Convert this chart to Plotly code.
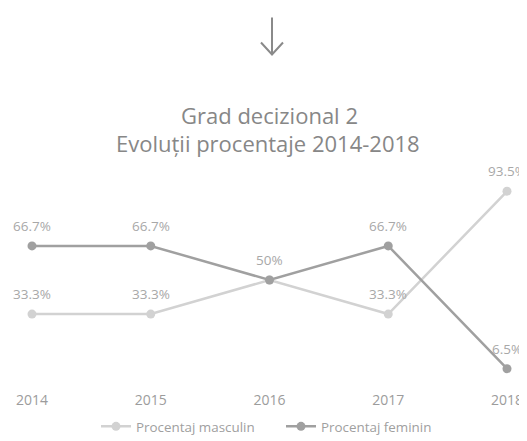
import plotly.graph_objects as go

years = ["2014", "2015", "2016", "2017", "2018"]
masculin = [33.3, 33.3, 50, 33.3, 93.5]
feminin = [66.7, 66.7, 50, 66.7, 6.5]
masc_labels = ["33.3%", "33.3%", "", "33.3%", "93.5%"]
fem_labels = ["66.7%", "66.7%", "50%", "66.7%", "6.5%"]

xs = list(range(len(years)))
font_fam = "Open Sans, Liberation Sans, sans-serif"

# page has an 8px body margin: work in figure coordinates (page - 8)
W, H = 519, 433
PLOT_TOP = 170.1
PLOT_H = 203.4
C_MASC = "#d2d2d2"
C_FEM = "#a0a0a0"

def py(p):
    return 1 + (PLOT_TOP - p) / PLOT_H

def px(p):
    return p / W

fig = go.Figure()
fig.add_trace(go.Scatter(
    x=xs, y=masculin, mode="lines+markers", name="Procentaj masculin",
    line=dict(color=C_MASC, width=2.5),
    marker=dict(color=C_MASC, size=9),
    cliponaxis=False,
))
fig.add_trace(go.Scatter(
    x=xs, y=feminin, mode="lines+markers", name="Procentaj feminin",
    line=dict(color=C_FEM, width=2.5),
    marker=dict(color=C_FEM, size=9),
    cliponaxis=False,
))

for series, labels in ((masculin, masc_labels), (feminin, fem_labels)):
    for x, v, t in zip(xs, series, labels):
        if t:
            fig.add_annotation(x=x, y=v, text=t, showarrow=False, yshift=20,
                               yanchor="middle",
                               font=dict(size=13.5, color="#a8a8a8", family=font_fam))

fig.update_layout(
    width=W, height=H,
    paper_bgcolor="white", plot_bgcolor="white",
    margin=dict(l=0, r=0, t=PLOT_TOP, b=H - PLOT_TOP - PLOT_H, autoexpand=False),
    font=dict(family=font_fam, color="#a0a0a0"),
    showlegend=True,
    legend=dict(orientation="h", x=px(88), xanchor="left", y=py(418), yanchor="middle",
                entrywidth=140, entrywidthmode="pixels",
                font=dict(size=13.4, color="#a0a0a0", family=font_fam)),
    xaxis=dict(range=[-0.2021, 4.1684], tickvals=xs, ticktext=years,
               showgrid=False, zeroline=False, showline=False,
               tickfont=dict(size=14, color="#9c9c9c"), ticklabelstandoff=8),
    yaxis=dict(range=[0, 100], visible=False),
)
fig.add_annotation(text="Grad decizional 2", xref="paper", yref="paper", x=px(261), y=py(107),
                   showarrow=False, yanchor="middle",
                   font=dict(size=22, color="#878787", family=font_fam))
fig.add_annotation(text="Evoluții procentaje 2014-2018", xref="paper", yref="paper", x=px(260), y=py(135),
                   showarrow=False, yanchor="middle",
                   font=dict(size=22, color="#878787", family=font_fam))

# decorative down arrow above the title
ax, ay0, ay1 = 264, 10, 47
fig.add_shape(type="path", xref="paper", yref="paper",
              path=f"M {px(ax)},{py(ay0)} L {px(ax)},{py(ay1)} "
                   f"M {px(ax - 11)},{py(ay1 - 12)} L {px(ax)},{py(ay1)} L {px(ax + 11)},{py(ay1 - 12)}",
              line=dict(color="#8a8a8a", width=2))

fig.write_html("out.html")
